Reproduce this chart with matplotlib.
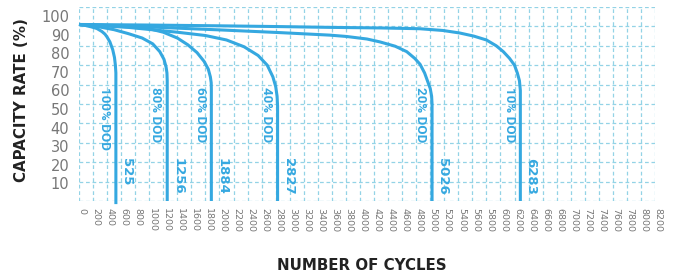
import matplotlib
matplotlib.use("Agg")
import matplotlib.pyplot as plt
import matplotlib.transforms as mtransforms

# ---------------- data ----------------
dod_labels = ["100% DOD", "80% DOD", "60% DOD", "40% DOD", "20% DOD", "10% DOD"]
cycle_life = [525, 1256, 1884, 2827, 5026, 6283]

x_100 = [0, 90, 170, 255, 325, 370, 400, 440, 480, 505, 518, 525, 525, 525]
y_100 = [91, 90.5, 89.8, 88.9, 87.4, 86, 84.5, 82, 78, 74, 70, 66, 55, -1.6]

x_80 = [0, 250, 500, 700, 900, 1050, 1150, 1210, 1240, 1252, 1256, 1256]
y_80 = [91, 90, 88.3, 86.3, 84, 81, 77, 73, 69, 66, 62, 0]

x_60 = [0, 500, 1000, 1200, 1400, 1550, 1680, 1780, 1840, 1870, 1882, 1884, 1884]
y_60 = [91, 90.3, 88.8, 87, 84, 80.5, 76.5, 72, 68, 64, 61, 58, 0]

x_40 = [0, 700, 1400, 1800, 2100, 2350, 2550, 2680, 2760, 2800, 2820, 2827, 2827]
y_40 = [91, 89.5, 87, 85.3, 83, 79.5, 75, 70, 64, 59, 54, 49, 0]

x_20 = [0, 1000, 2000, 2860, 3570, 3810, 4100, 4285, 4500, 4665, 4780, 4855,
        4920, 4960, 5000, 5020, 5026, 5026]
y_20 = [91, 89.7, 88.2, 86.8, 85.5, 84.8, 83.5, 82, 79.8, 77, 73.5, 70.5,
        66, 62, 58, 54, 50, 0]

x_10 = [0, 1000, 2000, 2860, 3570, 4300, 4850, 5180, 5420, 5620, 5800, 5940,
        6040, 6130, 6200, 6240, 6270, 6283, 6283]
y_10 = [91, 90.7, 90.3, 89.9, 89.5, 89.2, 88.8, 87.9, 86.6, 85, 83, 80,
        77, 73.5, 70, 66, 62, 57, 0]

curves_x = [x_100, x_80, x_60, x_40, x_20, x_10]
curves_y = [y_100, y_80, y_60, y_40, y_20, y_10]

x_ticks = list(range(0, 8201, 200))
y_ticks = list(range(10, 101, 10))

# ---------------- style ----------------
BLUE = "#35a8e0"
GRID = "#93d3e6"
GREY = "#777777"
DARK = "#222222"

fig = plt.figure(figsize=(6.76, 2.77), dpi=100)
ax = fig.add_axes([79 / 676, 1 - 201 / 277, 576 / 676, 194 / 277])

ax.set_xlim(0, 8200)
ax.set_ylim(0, 100)

for xs, ys in zip(curves_x, curves_y):
    ax.plot(xs, ys, color=BLUE, lw=2.2, solid_capstyle="butt",
            solid_joinstyle="round", clip_on=False, zorder=3)

# labels of the curves
for lab, n in zip(dod_labels, cycle_life):
    ax.text(n - 160, 58.8, lab, rotation=-90, ha="center", va="top",
            color=BLUE, fontsize=9.6, fontweight="bold", family="Roboto", zorder=4)
    ax.text(n + 150, 22.2, str(n), rotation=-90, ha="center", va="top",
            color=BLUE, fontsize=9.5, fontweight="bold", family="DejaVu Sans", zorder=4)

# grid
ax.set_xticks(x_ticks)
ax.set_yticks([0] + y_ticks)
ax.grid(True, color=GRID, linestyle=(0, (3, 2.2)), linewidth=0.9)
ax.set_axisbelow(True)
for s in ax.spines.values():
    s.set_visible(False)
ax.tick_params(axis="both", length=0)
ax.set_yticklabels([])
ax.set_xticklabels([str(v) for v in x_ticks], rotation=-90, fontsize=6.8,
                   color=GREY, va="top", ha="center")
ax.tick_params(axis="x", pad=5)
offset = mtransforms.ScaledTranslation(3 / 100, 0, fig.dpi_scale_trans)
for lbl in ax.get_xticklabels():
    lbl.set_transform(lbl.get_transform() + offset)

# y tick labels (slightly different scale than the grid in the original)
def g2l(v):
    return (0.9 + 1.94 * v) / 1.859

def l2g(v):
    return (1.859 * v - 0.9) / 1.94

sec = ax.secondary_yaxis("left", functions=(g2l, l2g))
sec.set_yticks(y_ticks)
sec.set_yticklabels([str(v) for v in y_ticks], fontsize=10.5, color=GREY)
sec.tick_params(length=0, pad=7)
sec.spines["left"].set_visible(False)

fig.text(22 / 676, 1 - 100 / 277, "CAPACITY RATE (%)", rotation=90,
         ha="center", va="center", fontsize=10.8, fontweight="bold", color=DARK)
fig.text(362 / 676, 1 - 265 / 277, "NUMBER OF CYCLES",
         ha="center", va="center", fontsize=10.8, fontweight="bold", color=DARK)

fig.savefig("out.png", dpi=100)
